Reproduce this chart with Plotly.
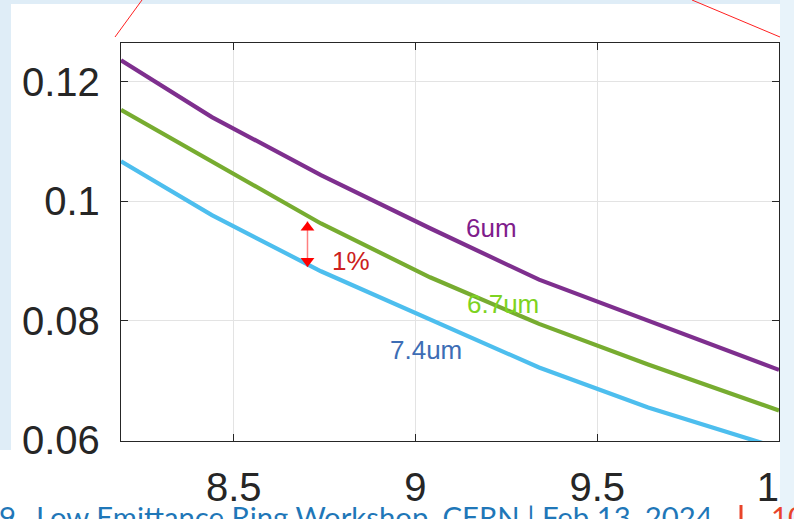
import plotly.graph_objects as go

# Beam size vs. parameter for three emittance settings
x_vals = [8.19, 8.44, 8.74, 9.04, 9.34, 9.64, 9.94, 10.0]
series_6um = [0.1236, 0.1141, 0.1044, 0.0955, 0.0869, 0.0800, 0.0731, 0.0718]
series_6p7um = [0.1153, 0.1066, 0.0963, 0.0873, 0.0795, 0.0727, 0.0662, 0.0650]
series_7p4um = [0.1067, 0.0977, 0.0883, 0.0803, 0.0722, 0.0655, 0.0597, 0.0587]

x_ticks = [8.5, 9, 9.5, 10]
x_ticktext = ["8.5", "9", "9.5", "10"]
y_ticks = [0.06, 0.08, 0.1, 0.12]
y_ticktext = ["0.06", "0.08", "0.1", "0.12"]

# 1% spread marker between the 6.7um and 7.4um curves
spread_x = 8.703
spread_top = 0.09665
spread_bottom = 0.0890

W, H = 794, 519
ML, MR, MT, MB = 121, 15, 43, 78
PW, PH = W - ML - MR, H - MT - MB
Y_RANGE = [0.0599, 0.1265]


def px(xp):
    return (xp - ML) / PW


def py(yp):
    return (H - MB - yp) / PH


fig = go.Figure()

curves = [
    (series_6um, "#7e2f8e", "6um"),
    (series_6p7um, "#77ac30", "6.7um"),
    (series_7p4um, "#4dbeee", "7.4um"),
]
for ys, col, name in curves:
    fig.add_trace(go.Scatter(x=x_vals, y=ys, mode="lines", name=name,
                             line=dict(color=col, width=4.2)))

# arrow shaft + heads
fig.add_trace(go.Scatter(x=[spread_x, spread_x], y=[spread_top, spread_bottom],
                         mode="lines", line=dict(color="rgba(255,0,0,0.5)", width=1.5),
                         hoverinfo="skip"))
head_off = 6.0 / (PH / (Y_RANGE[1] - Y_RANGE[0]))
fig.add_trace(go.Scatter(x=[spread_x, spread_x],
                         y=[spread_top - head_off, spread_bottom + head_off],
                         mode="markers",
                         marker=dict(symbol=["triangle-up", "triangle-down"], size=12,
                                     color="#ff0000", line=dict(width=0)),
                         hoverinfo="skip"))

axis_common = dict(
    showline=True, linecolor="#262626", linewidth=1.3, mirror="ticks",
    ticks="inside", ticklen=7, tickcolor="#262626", tickwidth=1.3,
    showgrid=True, gridcolor="#e3e3e3", gridwidth=1, zeroline=False,
    ticklabeloverflow="allow", automargin=False,
    tickfont=dict(family="Liberation Sans, Arial, sans-serif", size=40, color="#262626"),
)

fig.update_layout(
    width=W, height=H,
    margin=dict(l=ML, r=MR, t=MT, b=MB, autoexpand=False),
    paper_bgcolor="white", plot_bgcolor="white",
    showlegend=False,
    xaxis=dict(range=[8.19, 10.0], tickvals=x_ticks, ticktext=x_ticktext,
               ticklabelstandoff=11, **axis_common),
    yaxis=dict(range=Y_RANGE, tickvals=y_ticks, ticktext=y_ticktext,
               ticklabelstandoff=12, **axis_common),
)

label_font = "Liberation Sans, Arial, sans-serif"
labels = [
    ("6um", 9.2104, 0.0955, "#7f1d8c"),
    ("6.7um", 9.2404, 0.0829, "#7dd321"),
    ("7.4um", 9.0300, 0.0751, "#3d6db5"),
    ("1%", 8.8220, 0.0901, "#cc2020"),
]
for txt, lx, ly, col in labels:
    fig.add_annotation(x=lx, y=ly, text=txt, showarrow=False, xanchor="center",
                       yanchor="middle", font=dict(family=label_font, size=26, color=col))

# slide background strips around the pasted figure
blue = "#dfedf7"
shapes = [
    dict(type="rect", xref="paper", yref="paper", x0=px(0), x1=px(11), y0=py(450), y1=py(0),
         fillcolor=blue, line=dict(width=0), layer="below"),
    dict(type="rect", xref="paper", yref="paper", x0=px(0), x1=px(794), y0=py(4), y1=py(0),
         fillcolor=blue, line=dict(width=0), layer="below"),
    dict(type="rect", xref="paper", yref="paper", x0=px(780), x1=px(794), y0=py(519), y1=py(0),
         fillcolor="#e8f3fa", line=dict(width=0), layer="above"),
    # zoom callout lines
    dict(type="line", xref="paper", yref="paper", x0=px(115), y0=py(37), x1=px(142), y1=py(0),
         line=dict(color="#ff2020", width=1)),
    dict(type="line", xref="paper", yref="paper", x0=px(692), y0=py(0), x1=px(780), y1=py(37),
         line=dict(color="#ff2020", width=1)),
    # footer separator bar
    dict(type="line", xref="paper", yref="paper", x0=px(741), y0=py(505), x1=px(741), y1=py(519),
         line=dict(color="#e8442a", width=3), layer="above"),
]
fig.update_layout(shapes=shapes)

footer_font = "Lato, Noto Sans, sans-serif"
fig.add_annotation(xref="paper", yref="paper", x=px(-3), y=py(497), xanchor="left", yanchor="top",
                   text="9", showarrow=False,
                   font=dict(family=footer_font, size=29.3, color="#1f77b8"))
fig.add_annotation(xref="paper", yref="paper", x=px(34), y=py(497), xanchor="left", yanchor="top",
                   text="Low Emittance Ring Workshop, CERN | Feb 13, 2024", showarrow=False,
                   font=dict(family=footer_font, size=29.3, color="#1f77b8"))
fig.add_annotation(xref="paper", yref="paper", x=px(769), y=py(497), xanchor="left", yanchor="top",
                   text="10", showarrow=False,
                   font=dict(family=footer_font, size=29.3, color="#e8442a"))

fig.write_html("out.html")
